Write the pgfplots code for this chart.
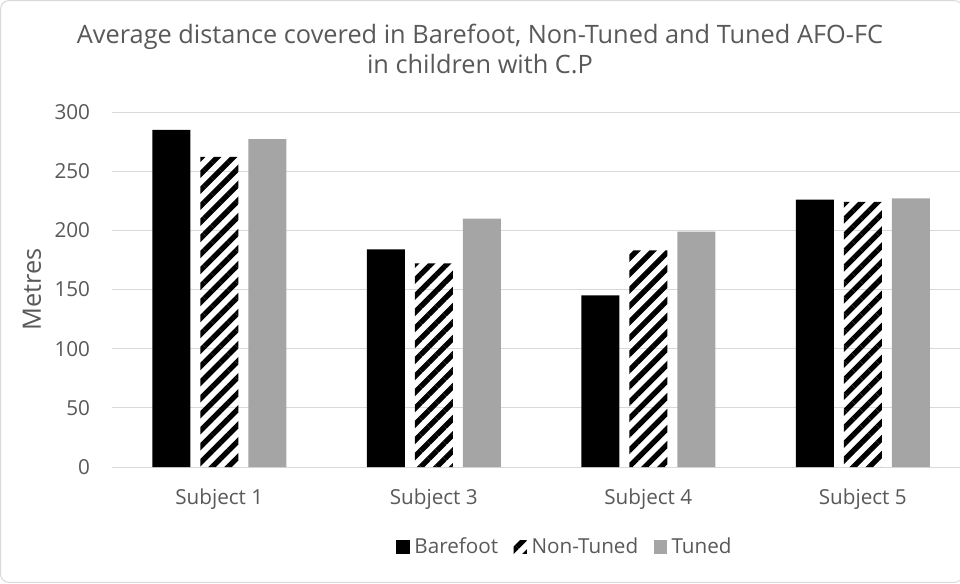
\documentclass[border=0pt]{standalone}
\usepackage{pgfplots}
\pgfplotsset{compat=1.18}
\usepackage{fontspec}
\setmainfont{Open Sans}
\usetikzlibrary{patterns.meta}
\definecolor{txtc}{HTML}{595959}
\definecolor{gridc}{HTML}{D9D9D9}
\definecolor{tunedc}{HTML}{A5A5A5}
\begin{document}
\begin{tikzpicture}
\useasboundingbox (0pt,0pt) rectangle (720pt,437.25pt);
\clip (0pt,0pt) rectangle (720pt,437.25pt);
\draw[draw=gridc, fill=white, rounded corners=6pt, line width=0.75pt] (0.5pt,0.5pt) rectangle (722pt,436.75pt);
\node[text=txtc, font=\fontsize{19pt}{21pt}\selectfont, align=center] at (360pt,400.5pt) {Average distance covered in Barefoot, Non-Tuned and Tuned AFO-FC\\[1pt]in children with C.P};
\begin{axis}[
  at={(84pt,87pt)}, anchor=south west,
  scale only axis, width=643.5pt, height=266.25pt,
  ybar=7.5pt, bar width=28.5pt,
  xmin=-0.5, xmax=3.5, ymin=0, ymax=300,
  xtick=data, xticklabels={Subject 1,Subject 3,Subject 4,Subject 5},
  ytick={0,50,...,300},
  ymajorgrids, xmajorgrids=false,
  grid style={draw=gridc, line width=0.75pt},
  axis x line*=bottom, axis y line*=left,
  x axis line style={draw=gridc, line width=0.75pt, -},
  y axis line style={draw=none},
  major tick length=0pt,
  tick style={draw=none},
  tick label style={text=txtc, font=\fontsize{15.5pt}{17pt}\selectfont},
  yticklabel style={xshift=-13pt},
  xticklabel style={yshift=-12.5pt},
  /pgf/number format/assume math mode=true,
  ylabel={Metres},
  every axis y label/.style={at={(axis description cs:0,0.5)}, xshift=-60pt, rotate=90, anchor=center, text=txtc, font=\fontsize{19pt}{21pt}\selectfont},
  legend style={at={(0.528,-0.225)}, anchor=center, draw=none, legend columns=-1, font=\fontsize{15.5pt}{17pt}\selectfont, text=txtc, nodes={inner sep=1.5pt}, /tikz/every odd column/.append style={column sep=2pt}, /tikz/every even column/.append style={column sep=10pt}},
  legend image code/.code={\draw[#1, draw=none] (0pt,-5pt) rectangle (10pt,5pt);},
]
\addplot[fill=black, draw=none] coordinates {(0,285) (1,184) (2,145) (3,226)};
\addplot[draw=none, pattern={Lines[angle=45,distance=8.5pt,line width=4pt]}, pattern color=black] coordinates {(0,262) (1,172) (2,183) (3,224)};
\addplot[fill=tunedc, draw=none] coordinates {(0,277) (1,210) (2,199) (3,227)};
\legend{Barefoot, Non-Tuned, Tuned}
\end{axis}
\end{tikzpicture}
\end{document}
